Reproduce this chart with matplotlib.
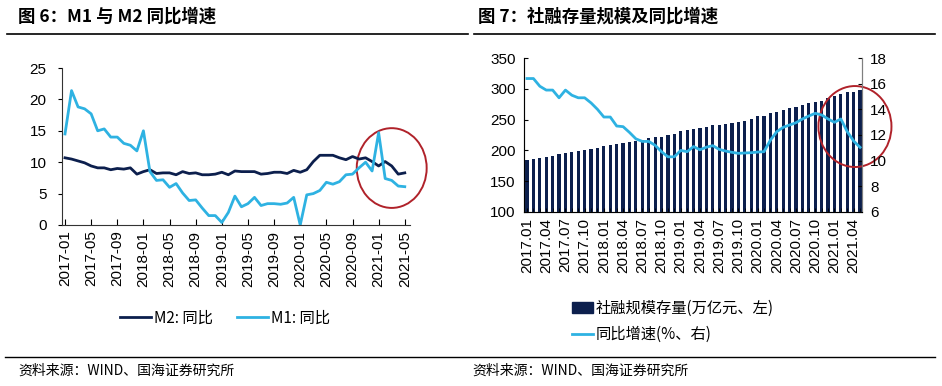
import numpy as np
import matplotlib
matplotlib.use("Agg")
import matplotlib.pyplot as plt
from matplotlib.patches import Ellipse, Patch
from matplotlib.lines import Line2D

plt.rcParams["font.family"] = ["Liberation Sans", "Noto Sans CJK SC", "DejaVu Sans"]
CJK = ["Noto Sans CJK SC", "DejaVu Sans"]

# ---------------- Daten ----------------
# Monatswerte 2017-01 bis 2021-05
m2_yoy = [10.7, 10.5, 10.2, 9.9, 9.4, 9.1, 9.1, 8.8, 9.0, 8.9, 9.1, 8.1,
          8.5, 8.8, 8.2, 8.3, 8.3, 8.0, 8.5, 8.2, 8.3, 8.0, 8.0, 8.1,
          8.4, 8.0, 8.6, 8.5, 8.5, 8.5, 8.1, 8.2, 8.4, 8.4, 8.2, 8.7,
          8.4, 8.8, 10.1, 11.1, 11.1, 11.1, 10.7, 10.4, 10.9, 10.5, 10.7, 10.1,
          9.4, 10.1, 9.4, 8.1, 8.3]
m1_yoy = [14.5, 21.4, 18.8, 18.5, 17.7, 15.0, 15.3, 14.0, 14.0, 13.0, 12.7, 11.8,
          15.0, 8.5, 7.1, 7.2, 6.0, 6.6, 5.1, 3.9, 4.0, 2.7, 1.5, 1.5,
          0.4, 2.0, 4.6, 2.9, 3.4, 4.4, 3.1, 3.4, 3.4, 3.3, 3.5, 4.4,
          0.0, 4.8, 5.0, 5.5, 6.8, 6.5, 6.9, 8.0, 8.1, 9.1, 10.0, 8.6,
          14.7, 7.4, 7.1, 6.2, 6.1]

# Sozialfinanzierung Bestand (万亿元) und Wachstum (%)
tsf_stock = [184, 185.5, 188, 190, 191.5, 194, 195.5, 197, 199.5, 200.5, 202, 204.5,
             207.5, 208.5, 211, 212.5, 214, 216, 217.5, 219.5, 221.5, 222.5, 224.5, 227,
             232, 233, 235.5, 237, 238.5, 240.5, 241.5, 243, 245, 246, 248, 251.5,
             255.5, 256.5, 260, 263, 265.5, 268.5, 270.5, 273, 276.5, 278, 280.5, 284.5,
             289, 291, 294, 295.5, 297.5]
tsf_yoy = [16.4, 16.4, 15.8, 15.5, 15.5, 14.9, 15.5, 15.1, 14.9, 14.9, 14.5, 14.0,
           13.4, 13.4, 12.7, 12.65, 12.2, 11.7, 11.5, 11.5, 11.2, 10.7, 10.3, 10.3,
           10.8, 10.7, 11.1, 10.85, 11.05, 11.17, 10.88, 10.75, 10.65, 10.57, 10.6, 10.62,
           10.67, 10.7, 11.6, 12.26, 12.6, 12.78, 12.96, 13.25, 13.48, 13.69, 13.56, 13.25,
           12.99, 13.25, 12.26, 11.53, 11.04]

months = [f"{2017 + i // 12}-{i % 12 + 1:02d}" for i in range(len(m2_yoy))]
labels_left = months[::4]
labels_right = [m.replace("-", ".") for m in months[::3]]

navy = "#0c1f4d"
light = "#2eb2e2"
red = "#b0222a"

fig = plt.figure(figsize=(9.42, 3.86), dpi=100)

# Titel und Trennlinien
fig.text(18 / 942, 1 - 17 / 386, "图 6：M1 与 M2 同比增速", family=CJK, fontsize=12.5,
         fontweight="bold", va="center")
fig.text(478 / 942, 1 - 17 / 386, "图 7：社融存量规模及同比增速", family=CJK, fontsize=12.5,
         fontweight="bold", va="center")
fig.add_artist(Line2D([7 / 942, 468 / 942], [1 - 34 / 386] * 2, color="black", lw=1.2))
fig.add_artist(Line2D([474 / 942, 935 / 942], [1 - 34 / 386] * 2, color="black", lw=1.2))
fig.add_artist(Line2D([5 / 942, 935 / 942], [1 - 357 / 386] * 2, color="black", lw=1.0))
fig.text(18 / 942, 1 - 371 / 386, "资料来源：WIND、国海证券研究所", family=CJK, fontsize=10,
         va="center")
fig.text(472 / 942, 1 - 371 / 386, "资料来源：WIND、国海证券研究所", family=CJK, fontsize=10,
         va="center")

# ---------------- Bild 6 ----------------
x = np.arange(len(m2_yoy))
ax1 = fig.add_axes([62 / 942, 1 - 225 / 386, 348 / 942, 157 / 386])
ax1.plot(x, m2_yoy, color=navy, lw=2, label="M2: 同比", solid_joinstyle="round")
ax1.plot(x, m1_yoy, color=light, lw=2, label="M1: 同比", solid_joinstyle="round")
ax1.set_xlim(-0.46, 52.8)
ax1.set_ylim(0, 25)
ax1.set_yticks([0, 5, 10, 15, 20, 25])
ax1.set_xticks(x[::4])
ax1.set_xticklabels(labels_left, rotation=90)
ax1.tick_params(axis="x", direction="in", length=4, labelsize=11, pad=4)
ax1.tick_params(axis="y", direction="out", length=3, labelsize=11, pad=8)
for s in ["top", "right"]:
    ax1.spines[s].set_visible(False)
for s in ["left", "bottom"]:
    ax1.spines[s].set_color("#333333")
ax1.add_patch(Ellipse((50.0, 9.07), 10.7, 12.7, fill=False, ec=red, lw=1.4, clip_on=False))
ax1.legend(loc="center", bbox_to_anchor=(225 / 942, 1 - 318 / 386),
           bbox_transform=fig.transFigure, ncol=2, frameon=False,
           prop={"family": CJK, "size": 11}, handlelength=2.0, columnspacing=1.6,
           handletextpad=0.2)

# ---------------- Bild 7 ----------------
ax2 = fig.add_axes([524 / 942, 1 - 212 / 386, 338 / 942, 154 / 386])
ax2.bar(x, tsf_stock, width=0.5, color=navy, label="社融规模存量(万亿元、左)")
ax2.set_xlim(-0.47, 52.3)
ax2.set_ylim(100, 350)
ax2.set_yticks(range(100, 351, 50))
ax2.set_xticks(x[::3])
ax2.set_xticklabels(labels_right, rotation=90)
ax2.set_xticks(x, minor=True)
ax2.tick_params(axis="x", which="both", direction="in", length=3, labelsize=11, pad=4)
ax2.tick_params(axis="y", direction="in", length=3, labelsize=11, pad=6)
ax2.spines["top"].set_visible(False)
for s in ["left", "bottom", "right"]:
    ax2.spines[s].set_color("#7f7f7f")

ax3 = ax2.twinx()
ax3.plot(x, tsf_yoy, color=light, lw=2, label="同比增速(%、右)", solid_joinstyle="round")
ax3.set_ylim(6, 18)
ax3.set_yticks(range(6, 19, 2))
ax3.tick_params(axis="y", direction="in", length=3, labelsize=11, pad=6)
ax3.spines["top"].set_visible(False)
ax3.spines["right"].set_color("#7f7f7f")
ax3.add_patch(Ellipse((51.2, 12.66), 11.4, 6.31, fill=False, ec=red, lw=1.4, clip_on=False))

handles = [Patch(color=navy), Line2D([], [], color=light, lw=2)]
fig.legend(handles, ["社融规模存量(万亿元、左)", "同比增速(%、右)"], loc="upper left",
           bbox_to_anchor=(558 / 942, 1 - 286 / 386), frameon=False, ncol=1,
           prop={"family": CJK, "size": 11}, handlelength=1.4, handletextpad=0.15,
           labelspacing=0.6)

fig.savefig("out.png", dpi=100)
